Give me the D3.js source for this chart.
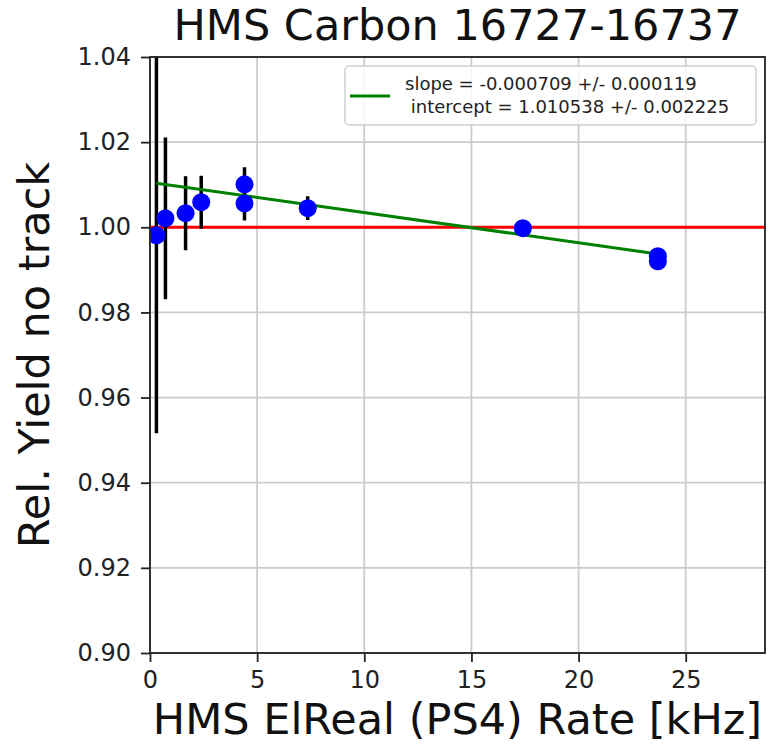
<!DOCTYPE html>
<html>
<head>
<meta charset="utf-8">
<script src="https://cdn.jsdelivr.net/npm/d3@7"></script>
<style>
  body { margin: 0; background: #fff; }
  text { font-family: "DejaVu Sans", sans-serif; }
</style>
</head>
<body>
<svg id="svg"></svg>
<script>
const svgWidth = 769;
const svgHeight = 751;

// data
const rates = [0.30, 0.72, 1.66, 2.39, 4.41, 4.41, 7.36, 17.4, 23.7, 23.7];
const yields = [0.9981, 1.0021, 1.0033, 1.0059, 1.0101, 1.0056, 1.0045, 0.9998, 0.9932, 0.9920];
const yieldErrs = [0.0465, 0.0190, 0.0087, 0.0062, 0.0040, 0.0040, 0.0028, 0.0008, 0.0008, 0.0008];

const fitSlope = -0.000709;
const fitIntercept = 1.010538;
const legendLines = ["slope = -0.000709 +/- 0.000119", " intercept = 1.010538 +/- 0.002225"];

const xTicks = [0, 5, 10, 15, 20, 25];
const yTicks = [0.90, 0.92, 0.94, 0.96, 0.98, 1.00, 1.02, 1.04];

let svg = d3.select("#svg");
svg.attr("width", svgWidth).attr("height", svgHeight);

const margin = { top: 57, right: 4, bottom: 98, left: 150 };
const chartWidth = svgWidth - margin.left - margin.right;
const chartHeight = svgHeight - margin.top - margin.bottom;

const chart = svg.append("g")
  .attr("transform", "translate(" + margin.left + "," + margin.top + ")");

const xScale = d3.scaleLinear().domain([0, 28.7]).range([0, chartWidth]);
const yScale = d3.scaleLinear().domain([0.90, 1.04]).range([chartHeight, 0]);

// clip
svg.append("defs").append("clipPath").attr("id", "clip")
  .append("rect").attr("width", chartWidth).attr("height", chartHeight);

// grid
chart.append("g").selectAll("line").data(xTicks).join("line")
  .attr("x1", d => xScale(d)).attr("x2", d => xScale(d))
  .attr("y1", 0).attr("y2", chartHeight)
  .attr("stroke", "#cbcbcb").attr("stroke-width", 1.8);
chart.append("g").selectAll("line").data(yTicks).join("line")
  .attr("y1", d => yScale(d)).attr("y2", d => yScale(d))
  .attr("x1", 0).attr("x2", chartWidth)
  .attr("stroke", "#cbcbcb").attr("stroke-width", 1.8);

// axes
const xAxis = chart.append("g")
  .attr("transform", "translate(0," + chartHeight + ")")
  .call(d3.axisBottom(xScale).tickValues(xTicks).tickSize(9).tickPadding(9).tickFormat(d3.format("d")));
const yAxis = chart.append("g")
  .call(d3.axisLeft(yScale).tickValues(yTicks).tickSize(9).tickPadding(10).tickFormat(d3.format(".2f")));

[xAxis, yAxis].forEach(ax => {
  ax.select(".domain").remove();
  ax.selectAll(".tick line").attr("stroke", "#222").attr("stroke-width", 1.8);
  ax.selectAll(".tick text").attr("fill", "#222").style("font-size", "24px")
    .style("font-family", "DejaVu Sans, sans-serif");
});

const plot = chart.append("g").attr("clip-path", "url(#clip)");

// reference line at 1
plot.append("line")
  .attr("x1", 0).attr("x2", chartWidth)
  .attr("y1", yScale(1)).attr("y2", yScale(1))
  .attr("stroke", "#ff0000").attr("stroke-width", 3);

// error bars
plot.append("g").selectAll("line").data(rates).join("line")
  .attr("x1", d => xScale(d)).attr("x2", d => xScale(d))
  .attr("y1", (d, i) => yScale(yields[i] - yieldErrs[i]))
  .attr("y2", (d, i) => yScale(yields[i] + yieldErrs[i]))
  .attr("stroke", "#000").attr("stroke-width", 3.5);

// fit line
const xExt = d3.extent(rates);
plot.append("line")
  .attr("x1", xScale(xExt[0])).attr("x2", xScale(xExt[1]))
  .attr("y1", yScale(fitIntercept + fitSlope * xExt[0]))
  .attr("y2", yScale(fitIntercept + fitSlope * xExt[1]))
  .attr("stroke", "#008000").attr("stroke-width", 3);

// points
plot.append("g").selectAll("circle").data(rates).join("circle")
  .attr("cx", d => xScale(d))
  .attr("cy", (d, i) => yScale(yields[i]))
  .attr("r", 9)
  .attr("fill", "#0000ff");

// frame
chart.append("rect")
  .attr("width", chartWidth).attr("height", chartHeight)
  .attr("fill", "none").attr("stroke", "#222").attr("stroke-width", 1.8);

// legend
const legend = chart.append("g").attr("transform", "translate(195,9)");
legend.append("rect")
  .attr("width", 411).attr("height", 59).attr("rx", 4)
  .attr("fill", "rgba(255,255,255,0.8)").attr("stroke", "#d0d0d0").attr("stroke-width", 1.5);
legend.append("line")
  .attr("x1", 5).attr("x2", 45).attr("y1", 30).attr("y2", 30)
  .attr("stroke", "#008000").attr("stroke-width", 3);
legend.selectAll("text.lg").data(legendLines).join("text")
  .attr("class", "lg")
  .attr("x", 60)
  .attr("y", (d, i) => 24 + i * 23)
  .attr("fill", "#222")
  .style("font-size", "18px")
  .style("white-space", "pre")
  .attr("xml:space", "preserve")
  .text(d => d);

// title
svg.append("text")
  .attr("x", margin.left + chartWidth / 2)
  .attr("y", 40)
  .attr("text-anchor", "middle")
  .attr("fill", "#111")
  .style("font-size", "43px")
  .text("HMS Carbon 16727-16737");

// axis labels
svg.append("text")
  .attr("x", margin.left + chartWidth / 2)
  .attr("y", 734)
  .attr("text-anchor", "middle")
  .attr("fill", "#111")
  .style("font-size", "43px")
  .text("HMS ElReal (PS4) Rate [kHz]");

svg.append("text")
  .attr("transform", "translate(49," + (margin.top + chartHeight / 2) + ") rotate(-90)")
  .attr("text-anchor", "middle")
  .attr("fill", "#111")
  .style("font-size", "43px")
  .text("Rel. Yield no track");
</script>
</body>
</html>
